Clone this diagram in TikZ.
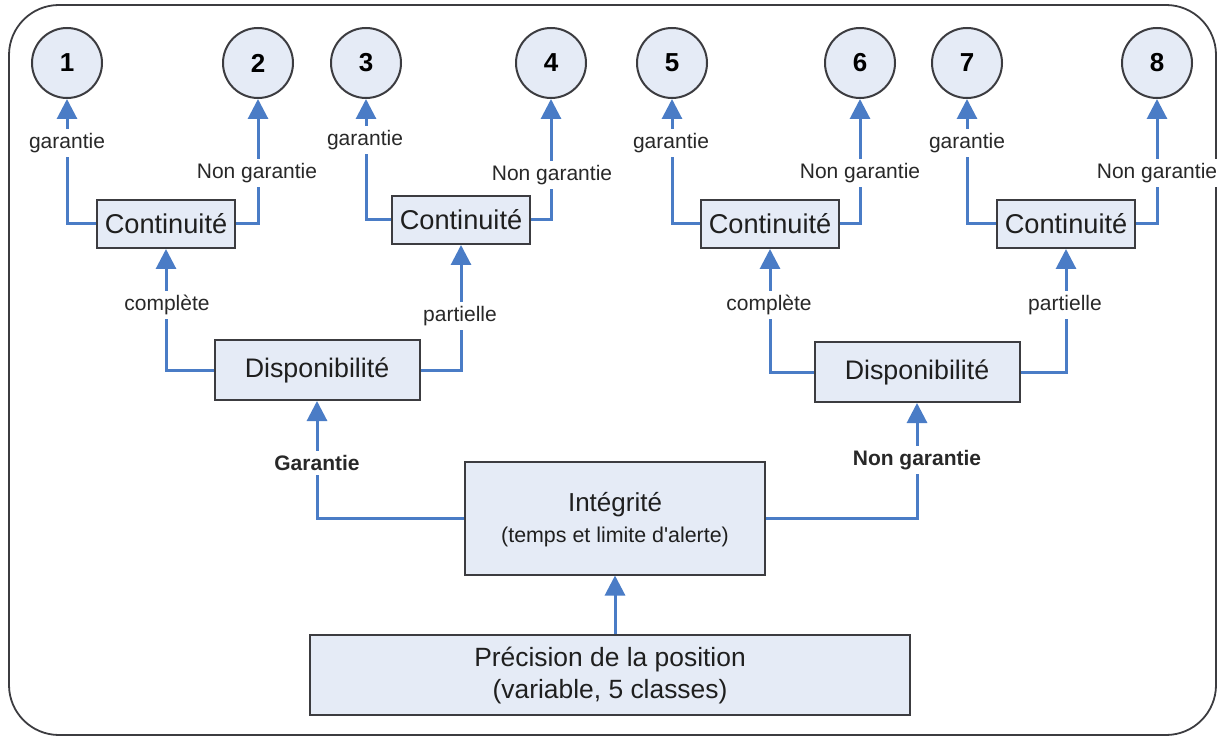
\documentclass[tikz,border=0pt]{standalone}
\usepackage{fontspec}
\setmainfont{Liberation Sans}
% same family without TeX ligatures, for a straight apostrophe
\newfontfamily\plainsans{Liberation Sans}
\usetikzlibrary{arrows.meta}
\definecolor{boxfill}{RGB}{229,235,246}
\definecolor{boxline}{RGB}{60,60,64}
\definecolor{flow}{RGB}{74,124,198}
\definecolor{labeltext}{RGB}{40,40,40}
\tikzset{
  box/.style={draw=boxline, line width=1pt, fill=boxfill, inner sep=0pt,
              text=black!88, align=center},
  contbox/.style={box, minimum width=69pt, minimum height=24pt,
                  font=\fontsize{13.6}{16}\selectfont},
  dispbox/.style={box, minimum width=102.5pt, minimum height=30pt,
                  font=\fontsize{13.4}{16}\selectfont},
  boxtext/.style={inner sep=0pt, text=black!88},
  outcome/.style={circle, draw=boxline, line width=1pt, fill=boxfill,
                  minimum size=35pt, inner sep=0pt,
                  font=\bfseries\fontsize{13}{15}\selectfont},
  arr/.style={draw=flow, line width=1.5pt,
              -{Triangle[width=10pt,length=10pt]}},
  lbl/.style={fill=white, inner sep=2pt, text=labeltext,
              font=\fontsize{10.5}{12}\selectfont},
  blbl/.style={lbl, font=\bfseries\fontsize{10.5}{12}\selectfont},
}
\begin{document}
\begin{tikzpicture}[x=0.5pt, y=-0.5pt]
  \useasboundingbox (0,0) rectangle (1219,737);
  % outer frame
  \draw[boxline, line width=0.9pt, rounded corners=25pt] (9,5) rectangle (1216,735);

  % outcome circles
  \node[outcome] (n1) at (67,63)   {1};
  \node[outcome] (n2) at (258,63)  {2};
  \node[outcome] (n3) at (366,63)  {3};
  \node[outcome] (n4) at (551,63)  {4};
  \node[outcome] (n5) at (672,63)  {5};
  \node[outcome] (n6) at (860,63)  {6};
  \node[outcome] (n7) at (967,63)  {7};
  \node[outcome] (n8) at (1157,63) {8};

  % continuity boxes
  \node[contbox] (c1) at (166,224)  {Continuité};
  \node[contbox] (c2) at (461,220)  {Continuité};
  \node[contbox] (c3) at (770,224)  {Continuité};
  \node[contbox] (c4) at (1066,224) {Continuité};

  % availability boxes
  \node[dispbox] (d1) at (317,370) {Disponibilité};
  \node[dispbox] (d2) at (917,372) {Disponibilité};

  % integrity box
  \node[box, minimum width=150pt, minimum height=56.5pt] (ig) at (615,518) {};
  \node[boxtext, font=\fontsize{13}{15}\selectfont] (igt) at (615,505) {Intégrité};
  \node[boxtext, font=\fontsize{10.7}{13}\selectfont] (igs) at (615,537)
    {(temps et limite d{\plainsans '}alerte)};

  % position accuracy box
  \node[box, minimum width=300pt, minimum height=40pt] (pr) at (610,675) {};
  \node[boxtext, font=\fontsize{13.2}{16}\selectfont] (prt) at (610,660) {Précision de la position};
  \node[boxtext, font=\fontsize{13.2}{16}\selectfont] (prs) at (610,692) {(variable, 5 classes)};

  % connectors
  \draw[arr] (pr.north -| ig.south) -- (ig.south);
  \draw[arr] (ig.west) -| (d1.south);
  \draw[arr] (ig.east) -| (d2.south);
  \draw[arr] (d1.west) -| (c1.south);
  \draw[arr] (d1.east) -| (c2.south);
  \draw[arr] (d2.west) -| (c3.south);
  \draw[arr] (d2.east) -| (c4.south);
  \draw[arr] (c1.west) -| (n1.south);
  \draw[arr] (c1.east) -| (n2.south);
  \draw[arr] (c2.west) -| (n3.south);
  \draw[arr] (c2.east) -| (n4.south);
  \draw[arr] (c3.west) -| (n5.south);
  \draw[arr] (c3.east) -| (n6.south);
  \draw[arr] (c4.west) -| (n7.south);
  \draw[arr] (c4.east) -| (n8.south);

  % connector labels
  \node[blbl] (lg)  at (317,463) {Garantie};
  \node[blbl] (lng) at (917,460) {Non garantie};
  \node[lbl] (lc1) at (167,305)  {complète};
  \node[lbl] (lp1) at (460,316)  {partielle};
  \node[lbl] (lc2) at (769,305)  {complète};
  \node[lbl] (lp2) at (1065,305) {partielle};
  \node[lbl] (l1) at (67,143)   {garantie};
  \node[lbl] (l2) at (257,173)  {Non garantie};
  \node[lbl] (l3) at (365,140)  {garantie};
  \node[lbl] (l4) at (552,175)  {Non garantie};
  \node[lbl] (l5) at (671,143)  {garantie};
  \node[lbl] (l6) at (860,173)  {Non garantie};
  \node[lbl] (l7) at (967,143)  {garantie};
  \node[lbl] (l8) at (1157,173) {Non garantie};
\end{tikzpicture}
\end{document}
